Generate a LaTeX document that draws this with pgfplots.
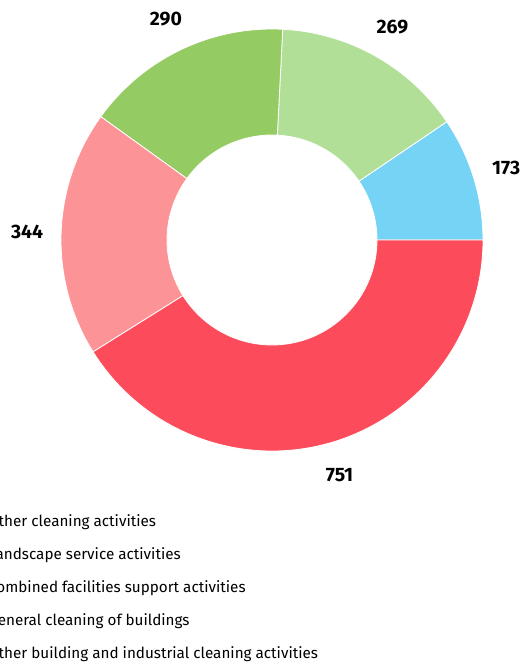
\documentclass[border=0pt]{standalone}
\usepackage{pgfplots}
\usepackage{pgfplotstable}
\pgfplotsset{compat=1.18}
\usepackage{fontspec}
\setmainfont{Fira Sans}

\definecolor{sliceA}{RGB}{117,211,245}
\definecolor{sliceB}{RGB}{178,223,151}
\definecolor{sliceC}{RGB}{149,203,99}
\definecolor{sliceD}{RGB}{252,148,151}
\definecolor{sliceE}{RGB}{252,76,92}

% value, colour, category (counter-clockwise from east)
\pgfplotstableread[col sep=comma]{
value,color,label
173,sliceA,Other cleaning activities
269,sliceB,Landscape service activities
290,sliceC,Combined facilities support activities
344,sliceD,General cleaning of buildings
751,sliceE,Other building and industrial cleaning activities
}\donutdata

\def\Rout{211}
\def\Rin{105}
\def\Rlab{245}

\begin{document}
\begin{tikzpicture}
% total of all slices
\pgfplotstablegetrowsof{\donutdata}
\pgfmathtruncatemacro\lastrow{\pgfplotsretval-1}
\def\total{0}
\foreach \i in {0,...,\lastrow}{
  \pgfplotstablegetelem{\i}{value}\of\donutdata
  \pgfmathsetmacro\t{\total+\pgfplotsretval}
  \global\let\total\t
}
\begin{axis}[
    x=1bp, y=1bp,
    xmin=-272, xmax=248,
    ymin=-422, ymax=240,
    hide axis, clip=false,
    legend cell align=left,
    legend image code/.code={\fill[#1] (0bp,0bp) circle (6bp);},
    legend style={
        at={(axis cs:-304,-274)}, anchor=north west,
        draw=none, fill=none, inner sep=0pt,
        row sep=18bp, column sep=8bp,
        font=\fontsize{15.3}{15.3}\selectfont,
        nodes={inner sep=0pt, text height=12bp, text depth=3bp},
    },
]
\def\cum{0}
\pgfplotsforeachungrouped \i in {0,...,4}{
  \pgfplotstablegetelem{\i}{value}\of\donutdata \let\v\pgfplotsretval
  \pgfplotstablegetelem{\i}{color}\of\donutdata \let\c\pgfplotsretval
  \pgfmathsetmacro\a{\cum/\total*360}
  \pgfmathsetmacro\b{(\cum+\v)/\total*360}
  \pgfmathsetmacro\m{(\a+\b)/2}
  \pgfmathsetmacro\xo{\Rout*cos(\a)}
  \pgfmathsetmacro\yo{\Rout*sin(\a)}
  \pgfmathsetmacro\xi{\Rin*cos(\b)}
  \pgfmathsetmacro\yi{\Rin*sin(\b)}
  \pgfmathsetmacro\xl{\Rlab*cos(\m)}
  \pgfmathsetmacro\yl{\Rlab*sin(\m)}
  \pgfmathtruncatemacro\vv{\v}
  \edef\cmd{%
    \noexpand\fill[\c, draw=white, line width=0.8bp]
      (axis cs:\xo,\yo) arc[start angle=\a, end angle=\b, radius=\Rout bp]
      -- (axis cs:\xi,\yi) arc[start angle=\b, end angle=\a, radius=\Rin bp] -- cycle;
    \noexpand\node[font=\noexpand\bfseries\noexpand\fontsize{19.5}{19.5}\noexpand\selectfont]
      at (axis cs:\xl,\yl) {\vv};
  }
  \cmd
  \pgfmathsetmacro\n{\cum+\v}
  \let\cum\n
}
\pgfplotsforeachungrouped \i in {0,...,4}{
  \pgfplotstablegetelem{\i}{color}\of\donutdata \let\c\pgfplotsretval
  \pgfplotstablegetelem{\i}{label}\of\donutdata \let\l\pgfplotsretval
  \edef\cmd{\noexpand\addlegendimage{fill=\c, draw=none}\noexpand\addlegendentry{\l}}
  \cmd
}
\coordinate (bl) at (axis cs:-272,-422);
\coordinate (tr) at (axis cs:248,240);
\end{axis}
\pgfresetboundingbox
\useasboundingbox (bl) rectangle (tr);
\end{tikzpicture}
\end{document}
